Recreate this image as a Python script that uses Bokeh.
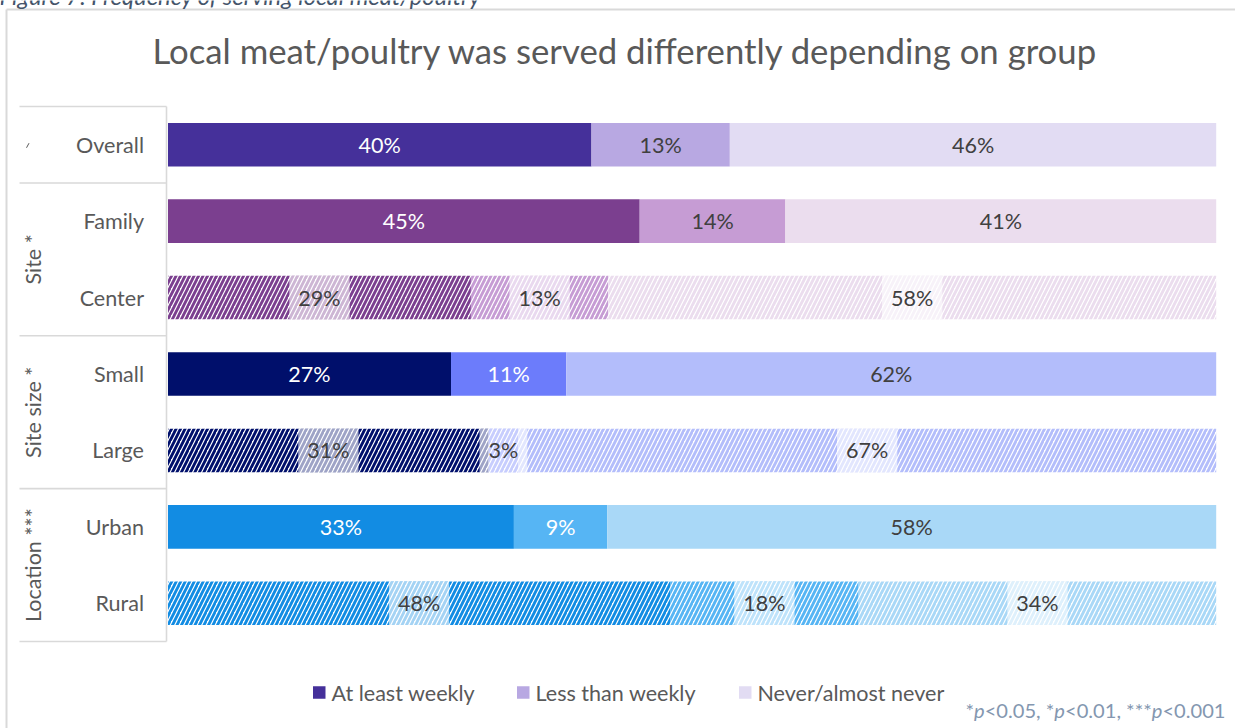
import glob
import os
import subprocess

from bokeh.plotting import figure
from bokeh.models import Range1d, ColumnDataSource
from bokeh.embed import file_html
from bokeh.resources import INLINE
from bokeh.core.properties import value

# ---------------- data ----------------
categories = ["Overall", "Family", "Center", "Small", "Large", "Urban", "Rural"]
group_of = ["", "Site *", "Site *", "Site size *", "Site size *", "Location ***", "Location ***"]
series_names = ["At least weekly", "Less than weekly", "Never/almost never"]
at_least_weekly = [40.4, 45.0, 28.9, 27.0, 30.6, 33.0, 47.9]
less_than_weekly = [13.2, 13.9, 13.1, 11.0, 2.8, 8.9, 18.0]
never_almost_never = [46.4, 41.1, 58.0, 62.0, 66.6, 58.1, 34.1]
title_text = "Local meat/poultry was served differently depending on group"
caption_text = "Figure 7: Frequency of serving local meat/poultry"
footnote_parts = [("*", False), ("p", True), ("<0.05, *", False), ("p", True),
                  ("<0.01, ***", False), ("p", True), ("<0.001", False)]

# ---------------- style ----------------
hatched_rows = [False, False, True, False, True, False, True]
dark_colors = ["#45309A", "#7B3F8F", "#7B3F8F", "#000F6B", "#000F6B", "#128CE3", "#128CE3"]
mid_colors = ["#B8A8E2", "#C69CD4", "#C69CD4", "#6C7CFB", "#6C7CFB", "#56B5F4", "#56B5F4"]
light_colors = ["#E2DCF3", "#EBDDEE", "#EBDDEE", "#B3BDFB", "#B3BDFB", "#A9D8F7", "#A9D8F7"]
white_text = [
    [True, True, False, True, False, True, False],
    [False, False, False, True, False, True, False],
    [False] * 7,
]
FONT = "Lato"
GREY = "#595959"
LABEL_GREY = "#404040"
LINE_GREY = "#D9D9D9"

W, H = 1235, 728
X0, X100 = 167.5, 1215.7
ROW_TOP, ROW_BOTTOM = 106.0, 641.0
BAR_H = 0.57


# ---------------- font measuring ----------------
def find_font(files, pattern):
    for root in ["/usr/share/fonts", "/usr/local/share/fonts", os.path.expanduser("~/.fonts"),
                 os.path.expanduser("~/.local/share/fonts")]:
        for f in files:
            hits = glob.glob(os.path.join(root, "**", f), recursive=True)
            if hits:
                return hits[0]
    try:
        out = subprocess.run(["fc-match", "-f", "%{file}", pattern], capture_output=True,
                             text=True, timeout=5).stdout.strip()
        if "lato" in os.path.basename(out).lower():
            return out
    except Exception:
        pass
    return None


REG = find_font(["Lato-Regular.ttf", "Lato-Reg.ttf"], "Lato:style=Regular")
ITA = find_font(["Lato-Italic.ttf", "Lato-RegIta.ttf"], "Lato:style=Italic")

try:
    from PIL import ImageFont
except Exception:
    ImageFont = None

_cache = {}


def width_at(s, size, italic=False):
    path = ITA if italic else REG
    if ImageFont is not None and path:
        try:
            if path not in _cache:
                _cache[path] = ImageFont.truetype(path, 200)
            return _cache[path].getlength(s) * size / 200.0
        except Exception:
            pass
    return 0.5 * size * len(s)


def fit(s, target, italic=False):
    return target / width_at(s, 1.0, italic)


BASE = fit("Overall", 68.0)
TITLE_FS = fit(title_text, 944.0)
CAP_FS = fit(caption_text, 481.0, italic=True)
foot_unit = sum(width_at(t, 1.0, it) for t, it in footnote_parts)
FOOT_FS = 260.0 / foot_unit


def fs(v):
    return value(f"{v:.2f}px")


# ---------------- figure ----------------
ppu = (X100 - X0) / 100.0
n = len(categories)
row_h = (ROW_BOTTOM - ROW_TOP) / n


def r_of(py):
    return (py - ROW_TOP) / row_h - 0.5


p = figure(width=W, height=H, output_backend="svg", toolbar_location=None,
           x_range=Range1d(-X0 / ppu, (W - X0) / ppu), y_range=Range1d(r_of(H), r_of(0)),
           x_axis_location=None, y_axis_location=None, min_border=0,
           outline_line_color=None, background_fill_color="white", border_fill_color="white")
p.extra_x_ranges = {"px": Range1d(0, W)}
p.extra_y_ranges = {"px": Range1d(H, 0)}
p.grid.visible = False

# outer border
p.segment(x0=[6, 6], y0=[9, 9], x1=[6, W + 5], y1=[H + 5, 9], line_color=LINE_GREY,
          line_width=2, x_range_name="px", y_range_name="px")

# caption (cut off at top, as in the reference)
p.text(x=[-1], y=[-5], text=[caption_text], text_font=value(FONT), text_font_style="italic",
       text_font_size=fs(CAP_FS), text_color="#44546A", text_baseline="middle",
       x_range_name="px", y_range_name="px")

# title
p.text(x=[625], y=[50], text=[title_text], text_font=value(FONT), text_font_size=fs(TITLE_FS),
       text_color=GREY, text_align="center", text_baseline="middle",
       x_range_name="px", y_range_name="px")

rows = list(range(n))

# bars
series_vals = [at_least_weekly, less_than_weekly, never_almost_never]
series_cols = [dark_colors, mid_colors, light_colors]
left = [0.0] * n
label_sources = []
for k, vals in enumerate(series_vals):
    right = [l + v for l, v in zip(left, vals)]
    cols = series_cols[k]
    labels = [f"{v:.0f}%" for v in vals]
    src = ColumnDataSource(dict(
        y=rows, left=left, right=right,
        fill=["white" if h else c for h, c in zip(hatched_rows, cols)],
        hatch=["right_diagonal_line" if h else "blank" for h in hatched_rows],
        hcol=cols,
        mid=[(a + b) / 2 for a, b in zip(left, right)],
        label=labels,
        tcol=["white" if (wt and not h) else LABEL_GREY for wt, h in zip(white_text[k], hatched_rows)],
        bw=[width_at(t, BASE) + 18 for t in labels],
    ))
    p.hbar(y="y", left="left", right="right", height=BAR_H, fill_color="fill",
           hatch_pattern="hatch", hatch_color="hcol", hatch_scale=9, hatch_weight=2.8,
           line_color=None, source=src)
    label_sources.append(src)
    left = right

# label backgrounds on hatched bars, then labels
for src in label_sources:
    d = src.data
    idx = [i for i in range(n) if hatched_rows[i]]
    bg = ColumnDataSource({k: [d[k][i] for i in idx] for k in ("mid", "y", "bw")})
    p.rect(x="mid", y="y", width="bw", width_units="screen", height=BAR_H,
           fill_color="white", fill_alpha=0.62, line_color=None, source=bg)
for src in label_sources:
    p.text(x="mid", y="y", text="label", text_color="tcol", text_align="center",
           text_baseline="middle", text_font=value(FONT), text_font_size=fs(BASE), source=src)

# category labels
p.text(x=[143.5] * n, y=rows, text=categories, text_font=value(FONT), text_font_size=fs(BASE),
       text_color=GREY, text_align="right", text_baseline="middle", x_range_name="px")

# group labels (rotated)
gnames, gpos = [], []
for g in dict.fromkeys(group_of):
    if not g:
        continue
    members = [i for i, gg in enumerate(group_of) if gg == g]
    gnames.append(g)
    gpos.append(sum(members) / len(members))
p.text(x=[32] * len(gnames), y=gpos, text=gnames, angle=1.5707963, text_font=value(FONT),
       text_font_size=fs(BASE), text_color=GREY, text_align="center",
       text_baseline="middle", x_range_name="px")
# tiny mark of the (blank) group of "Overall"
p.segment(x0=[26], y0=[0.04], x1=[28.5], y1=[-0.02], line_color=GREY, line_width=1,
          x_range_name="px")

# label box lines
bounds = [0] + [i for i in range(1, n) if group_of[i] != group_of[i - 1]] + [n]
p.multi_line(xs=[[19, 166] for _ in bounds], ys=[[b - 0.5, b - 0.5] for b in bounds],
             line_color=LINE_GREY, line_width=1.6, x_range_name="px")
p.segment(x0=[166], y0=[-0.5], x1=[166], y1=[n - 0.5], line_color=LINE_GREY, line_width=1.6,
          x_range_name="px")

# legend
leg_text_x = [331, 535, 757]
leg_y = 692
p.rect(x=[t - 6 - 6.25 for t in leg_text_x], y=[leg_y] * 3, width=12.5, height=12.5,
       fill_color=[dark_colors[0], mid_colors[0], light_colors[0]], line_color=None,
       x_range_name="px", y_range_name="px")
p.text(x=leg_text_x, y=[leg_y] * 3, text=series_names, text_font=value(FONT),
       text_font_size=fs(BASE), text_color=GREY, text_baseline="middle",
       x_range_name="px", y_range_name="px")

# footnote
fx = 965.0
for t, it in footnote_parts:
    p.text(x=[fx], y=[709], text=[t], text_font=value(FONT),
           text_font_style="italic" if it else "normal", text_font_size=fs(FOOT_FS),
           text_color="#8497B0", text_baseline="middle",
           x_range_name="px", y_range_name="px")
    fx += width_at(t, FOOT_FS, it)

open("out.html", "w").write(file_html(p, INLINE, title="Local meat/poultry"))
